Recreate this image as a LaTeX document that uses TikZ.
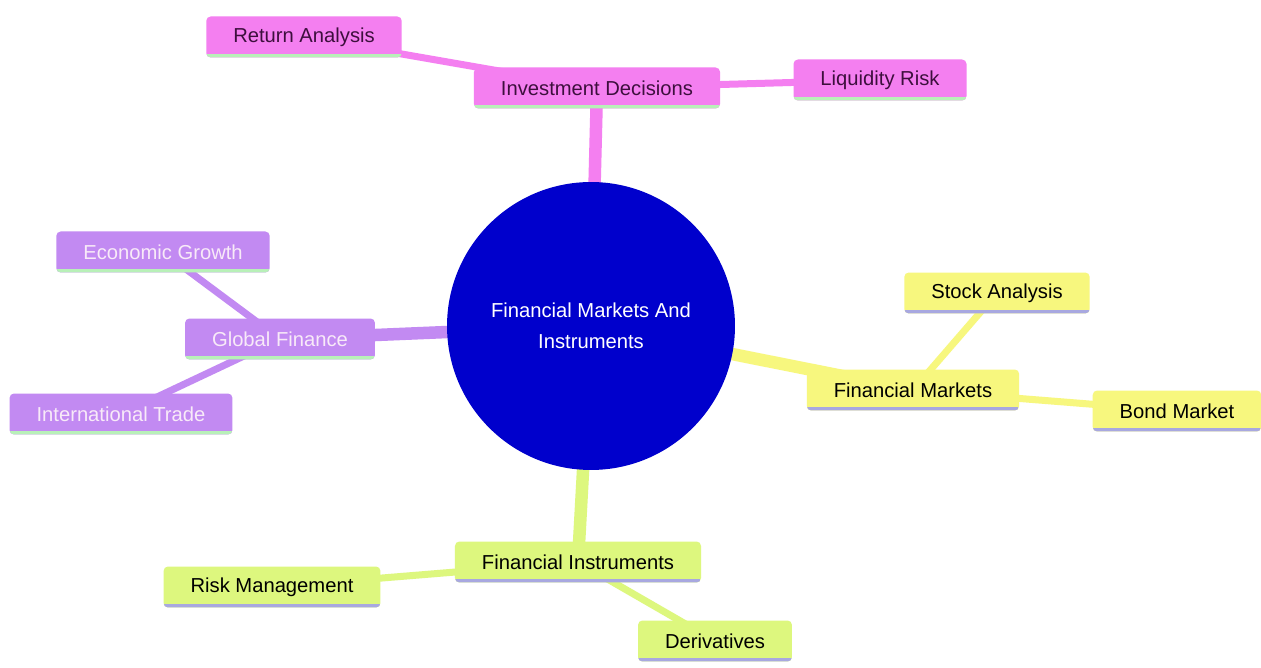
\documentclass[tikz,border=0pt]{standalone}
\usepackage{fontspec}
\setmainfont{Liberation Sans}
\usetikzlibrary{backgrounds}

\definecolor{pinkbox}{HTML}{F47FF0}
\definecolor{purplebox}{HTML}{C28AF2}
\definecolor{yellowbox}{HTML}{F7F77E}
\definecolor{greenbox}{HTML}{DDF77E}
\definecolor{rootblue}{HTML}{0000CC}
\definecolor{mintline}{HTML}{B8F0B8}
\definecolor{lavline}{HTML}{A8A8E0}
\definecolor{pinktext}{HTML}{3D0F3D}
\definecolor{purpletext}{HTML}{F8EAF8}

\begin{document}
\begin{tikzpicture}[x=0.02cm, y=-0.02cm, font=\fontsize{11.5}{14}\selectfont,
    main/.style = {rectangle, rounded corners=2.5pt, minimum height=0.82cm, inner xsep=0.54cm, inner ysep=0pt},
    underline/.style = {path picture={\draw[#1, line width=4pt] (path picture bounding box.south west) -- (path picture bounding box.south east);}},
    pinkmain/.style = {main, fill=pinkbox, text=pinktext, underline=mintline},
    purplemain/.style = {main, fill=purplebox, text=purpletext, underline=mintline},
    yellowmain/.style = {main, fill=yellowbox, text=black, underline=lavline},
    greenmain/.style = {main, fill=greenbox, text=black, underline=lavline},
    trunk/.style = {line width=0.25cm},
    twig/.style = {line width=0.14cm}]
    \useasboundingbox (0,0) rectangle (1261,668);

    \node[circle, fill=rootblue, minimum size=5.76cm, text=white, align=center,
          font=\fontsize{11.5}{17.6}\selectfont] (0) at (591,326) {Financial Markets And\\Instruments};

    \node[pinkmain] (1) at (597,88) {Investment Decisions};
    \node[pinkmain] (2) at (304,37) {Return Analysis};
    \node[pinkmain] (3) at (880,80) {Liquidity Risk};

    \node[purplemain] (4) at (280,339) {Global Finance};
    \node[purplemain] (5) at (163,252) {Economic Growth};
    \node[purplemain] (6) at (121,414) {International Trade};

    \node[yellowmain] (7) at (913,390) {Financial Markets};
    \node[yellowmain] (8) at (997,293) {Stock Analysis};
    \node[yellowmain] (9) at (1177,411) {Bond Market};

    \node[greenmain] (10) at (578,562) {Financial Instruments};
    \node[greenmain] (11) at (272,587) {Risk Management};
    \node[greenmain] (12) at (715,641) {Derivatives};

    \begin{pgfonlayer}{background}
        \fill[white] (0,0) rectangle (1261,668);
        \draw[pinkbox, trunk] (0.center) -- (1.center);
        \draw[pinkbox, twig] (1.center) -- (2.center);
        \draw[pinkbox, twig] (1.center) -- (3.center);
        \draw[purplebox, trunk] (0.center) -- (4.center);
        \draw[purplebox, twig] (4.center) -- (5.center);
        \draw[purplebox, twig] (4.center) -- (6.center);
        \draw[yellowbox, trunk] (0.center) -- (7.center);
        \draw[yellowbox, twig] (7.center) -- (8.center);
        \draw[yellowbox, twig] (7.center) -- (9.center);
        \draw[greenbox, trunk] (0.center) -- (10.center);
        \draw[greenbox, twig] (10.center) -- (11.center);
        \draw[greenbox, twig] (10.center) -- (12.center);
    \end{pgfonlayer}
\end{tikzpicture}
\end{document}
